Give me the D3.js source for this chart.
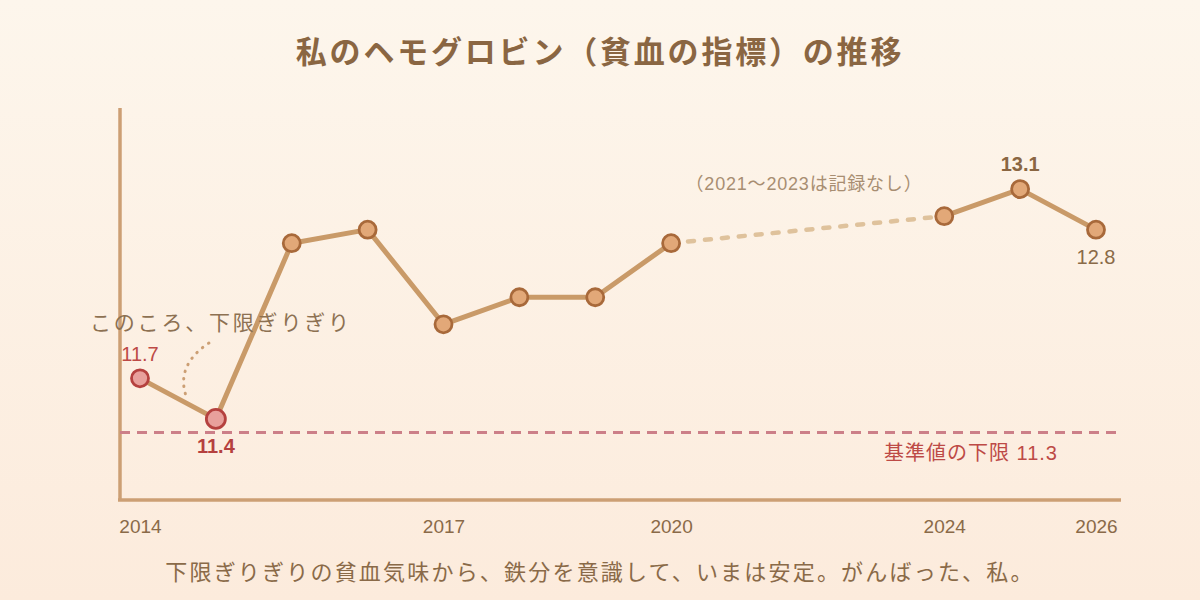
<!DOCTYPE html>
<html>
<head>
<meta charset="utf-8">
<script src="https://cdn.jsdelivr.net/npm/d3@7"></script>
<style>
  html, body { margin: 0; padding: 0; }
  body { width: 1200px; height: 600px; overflow: hidden; }
  svg text { font-family: "Liberation Sans", "Noto Sans CJK JP", sans-serif; }
</style>
</head>
<body>
<svg id="chart"></svg>
<script>
// readings, in order (2021-2023 not measured)
const hbValues = [11.7, 11.4, 12.7, 12.8, 12.1, 12.3, 12.3, 12.7, 12.9, 13.1, 12.8];
const tickLabels = ["2014", "", "", "", "2017", "", "", "2020", "2024", "", "2026"];
const lowerLimit = 11.3;
const gapAfter = 7;     // last reading before the missing years
const gapSlots = 2.6;   // extra room for the missing years

const title = "私のヘモグロビン（貧血の指標）の推移";
const caption = "下限ぎりぎりの貧血気味から、鉄分を意識して、いまは安定。がんばった、私。";
const gapNote = "（2021〜2023は記録なし）";
const lowNote = "このころ、下限ぎりぎり";
const limitNote = "基準値の下限 11.3";

const W = 1200, H = 600;
const svg = d3.select("#chart").attr("width", W).attr("height", H);

// background
const grad = svg.append("defs").append("linearGradient")
    .attr("id", "bg").attr("x1", 0).attr("y1", 0).attr("x2", 0).attr("y2", 1);
grad.append("stop").attr("offset", "0%").attr("stop-color", "#fdf6ec");
grad.append("stop").attr("offset", "100%").attr("stop-color", "#fcebdc");
svg.append("rect").attr("width", W).attr("height", H).attr("fill", "url(#bg)");

// scales
const slot = i => i + (i > gapAfter ? gapSlots : 0);
const data = hbValues.map((v, i) => ({ i, v, s: slot(i) }));
const x = d3.scaleLinear()
  .domain([0, slot(hbValues.length - 1)])
  .range([140, 1096]);
const y = d3.scaleLinear()
  .domain([10.8, 13.7])
  .range([500, 108]);

// title
svg.append("text")
  .attr("x", W / 2).attr("y", 63)
  .attr("text-anchor", "middle")
  .attr("font-size", 31).attr("font-weight", "bold")
  .attr("letter-spacing", 2.8)
  .attr("fill", "#8a6642")
  .text(title);

// axes lines
const axisColor = "#cc9f74";
svg.append("line")
  .attr("x1", 120).attr("x2", 120)
  .attr("y1", 108).attr("y2", y.range()[0])
  .attr("stroke", axisColor).attr("stroke-width", 3.5);
svg.append("line")
  .attr("x1", 118).attr("x2", 1121)
  .attr("y1", y.range()[0]).attr("y2", y.range()[0])
  .attr("stroke", axisColor).attr("stroke-width", 3.5);

// x tick labels via axis
const tickIdx = tickLabels.map((t, i) => t ? i : -1).filter(i => i >= 0);
const xAxis = svg.append("g")
  .attr("transform", `translate(0,${y.range()[0] + 16})`)
  .call(d3.axisBottom(x)
    .tickValues(tickIdx.map(slot))
    .tickSize(0)
    .tickFormat((d, k) => tickLabels[tickIdx[k]]));
xAxis.select(".domain").remove();
xAxis.selectAll("text")
  .attr("font-size", 19)
  .attr("fill", "#8a6a48")
  .attr("font-family", "Liberation Sans, Noto Sans CJK JP, sans-serif");

// lower limit reference
svg.append("line")
  .attr("x1", 120).attr("x2", 1120)
  .attr("y1", y(lowerLimit)).attr("y2", y(lowerLimit))
  .attr("stroke", "#cc7f88").attr("stroke-width", 3)
  .attr("stroke-dasharray", "10 7");
svg.append("text")
  .attr("x", 1058).attr("y", y(lowerLimit) + 28)
  .attr("text-anchor", "end")
  .attr("font-size", 20)
  .attr("letter-spacing", 1)
  .attr("fill", "#bd4a46")
  .text(limitNote);

// lines
const line = d3.line().x(d => x(d.s)).y(d => y(d.v));
const before = data.filter(d => d.i <= gapAfter);
const after = data.filter(d => d.i > gapAfter);
const lineColor = "#c99a68";
[before, after].forEach(seg => {
  svg.append("path")
    .datum(seg)
    .attr("d", line)
    .attr("fill", "none")
    .attr("stroke", lineColor)
    .attr("stroke-width", 5)
    .attr("stroke-linejoin", "round");
});
svg.append("path")
  .datum([data[gapAfter], data[gapAfter + 1]])
  .attr("d", line)
  .attr("fill", "none")
  .attr("stroke", "#dfc29c")
  .attr("stroke-width", 4.5)
  .attr("stroke-linecap", "round")
  .attr("stroke-dasharray", "6 11");

// gap note
svg.append("text")
  .attr("x", 804).attr("y", 190)
  .attr("text-anchor", "middle")
  .attr("font-size", 18)
  .attr("letter-spacing", 0.8)
  .attr("fill", "#a88e72")
  .text(gapNote);

// points
const isLow = d => d.v - lowerLimit < 0.5;
svg.selectAll("circle.pt")
  .data(data)
  .join("circle")
    .attr("class", "pt")
    .attr("cx", d => x(d.s))
    .attr("cy", d => y(d.v))
    .attr("r", d => d.i === 1 ? 9.5 : 8.5)
    .attr("fill", d => isLow(d) ? "#e8a09c" : "#e2a878")
    .attr("stroke", d => isLow(d) ? "#b5413f" : "#a8693a")
    .attr("stroke-width", 2.8);

// value labels
const lo = d3.minIndex(hbValues), hi = d3.maxIndex(hbValues), last = hbValues.length - 1;
const valueLabels = [
  { i: 0, dy: -17, bold: false, color: "#bd4a46" },
  { i: lo, dy: 34, bold: true, color: "#b5413f" },
  { i: hi, dy: -18, bold: true, color: "#8a6642" },
  { i: last, dy: 34, bold: false, color: "#8a6a48" }
];
svg.selectAll("text.val")
  .data(valueLabels)
  .join("text")
    .attr("class", "val")
    .attr("x", d => x(slot(d.i)))
    .attr("y", d => y(hbValues[d.i]) + d.dy)
    .attr("text-anchor", "middle")
    .attr("font-size", 20)
    .attr("font-weight", d => d.bold ? "bold" : "normal")
    .attr("fill", d => d.color)
    .text(d => hbValues[d.i].toFixed(1));

// annotation for the low period
svg.append("text")
  .attr("x", 90).attr("y", 330)
  .attr("font-size", 21)
  .attr("letter-spacing", 2.8)
  .attr("fill", "#8d7152")
  .text(lowNote);
const mid = (x(0) + x(1)) / 2;
svg.append("path")
  .attr("d", `M${mid + 31},343 Q${mid - 2},365 ${mid + 8},${(y(hbValues[0]) + y(hbValues[1])) / 2 - 3}`)
  .attr("fill", "none")
  .attr("stroke", "#cc9f74")
  .attr("stroke-width", 3)
  .attr("stroke-linecap", "round")
  .attr("stroke-dasharray", "0.5 7");

// caption
svg.append("text")
  .attr("x", W / 2).attr("y", 580)
  .attr("text-anchor", "middle")
  .attr("font-size", 22)
  .attr("letter-spacing", 2.2)
  .attr("fill", "#8a6a48")
  .text(caption);
</script>
</body>
</html>
